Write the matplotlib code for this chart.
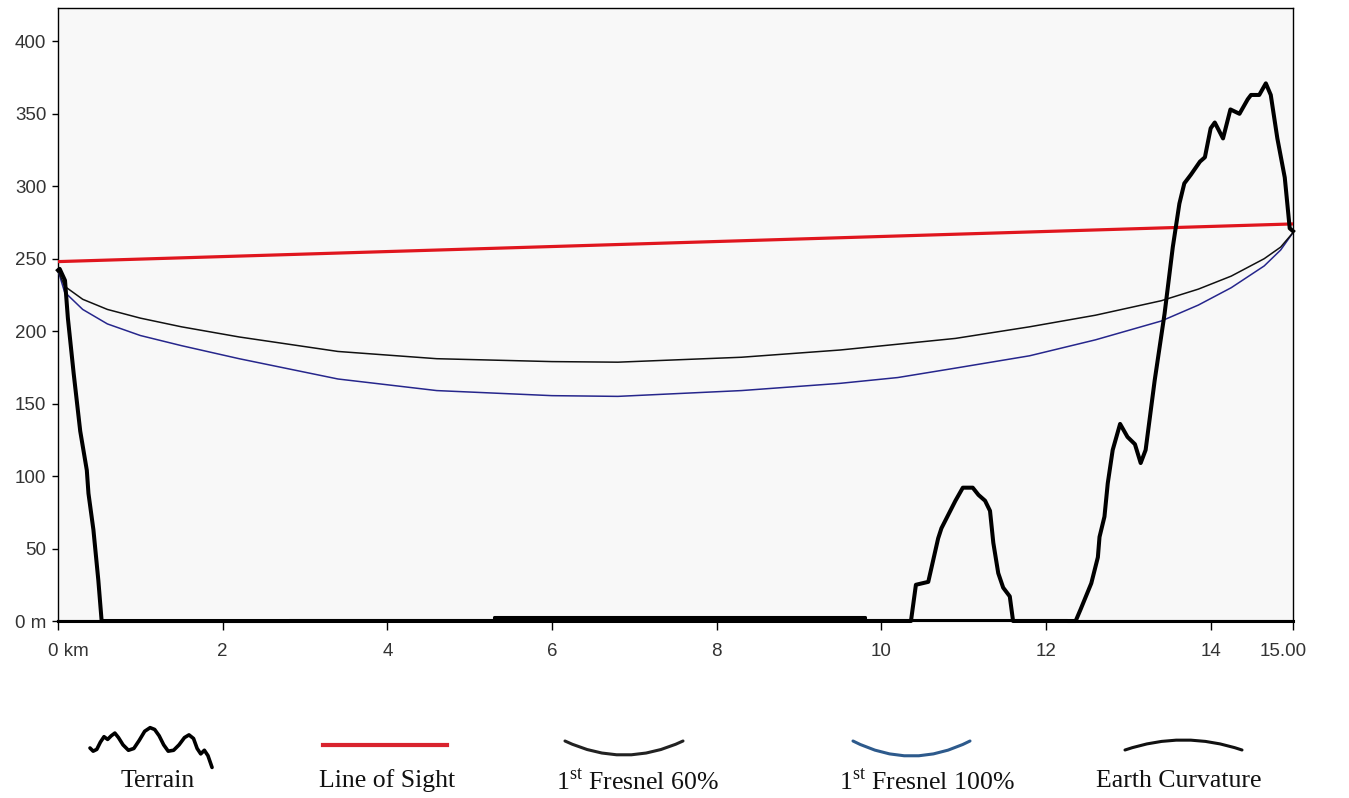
import matplotlib
matplotlib.use("Agg")
import matplotlib.pyplot as plt
from matplotlib.path import Path
from matplotlib.patches import PathPatch
import matplotlib.transforms as mtransforms

plt.rcParams['font.family'] = ['Liberation Sans', 'DejaVu Sans']
plt.rcParams['mathtext.fontset'] = 'custom'
plt.rcParams['mathtext.rm'] = 'Liberation Serif'

# ---------------- data ----------------
terrain_km = [0, 0.02, 0.085, 0.12, 0.19, 0.27, 0.35, 0.37, 0.43, 0.49, 0.53,
              10.36, 10.42, 10.57, 10.61, 10.69, 10.73, 10.90, 10.99, 11.11, 11.18,
              11.26, 11.32, 11.36, 11.42, 11.48, 11.56, 11.60,
              12.36, 12.42, 12.55, 12.63, 12.65, 12.71, 12.75, 12.81, 12.90, 12.99,
              13.08, 13.15, 13.21, 13.32, 13.44, 13.54, 13.62, 13.68, 13.76, 13.87,
              13.93, 14.0, 14.05, 14.15, 14.24, 14.35, 14.45, 14.49, 14.59, 14.67,
              14.73, 14.81, 14.90, 14.96, 15.0]
terrain_m = [242, 243, 235, 209, 171, 131, 104, 88, 63, 28, 0,
             0, 25, 27, 37, 57, 64, 83, 92, 92, 87,
             83, 76, 54, 33, 23, 17, 0,
             0, 8, 26, 44, 58, 72, 95, 118, 136, 127,
             122, 109, 118, 166, 212, 258, 288, 302, 308, 317,
             320, 340, 344, 333, 353, 350, 360, 363, 363, 371,
             363, 333, 306, 271, 269]

los_km = [0, 15]
los_m = [248, 274]

fresnel_km = [0, 0.08, 0.3, 0.6, 1.0, 1.5, 2.2, 3.4, 4.6, 6.0, 6.8, 8.3, 9.5,
              10.2, 10.9, 11.8, 12.6, 13.4, 13.85, 14.25, 14.65, 14.85, 15.0]
fresnel60_m = [242, 231, 222, 215, 209, 203, 196, 186, 181, 179, 178.6, 182, 187,
               191, 195, 203, 211, 221, 229, 238, 250, 258, 268]
fresnel100_m = [242, 227, 215, 205, 197, 190, 181, 167, 159, 155.5, 155, 159, 164,
                168, 174.5, 183, 194, 207, 218, 230, 245, 256, 268]

earth_km = [0, 2.8, 2.8, 5.3, 5.3, 9.8, 9.8, 12.25, 12.25, 15]
earth_m = [0, 0, 1, 1, 2.5, 2.5, 1, 1, 0, 0]

xtick_vals = [0, 2, 4, 6, 8, 10, 12, 14, 15]
xtick_labels = ['0 km', '2', '4', '6', '8', '10', '12', '14', '15.00']
ytick_vals = [0, 50, 100, 150, 200, 250, 300, 350, 400]
ytick_labels = ['0 m', '50', '100', '150', '200', '250', '300', '350', '400']

legend_labels = ['Terrain', 'Line of Sight', r'1$^{\mathrm{st}}$ Fresnel 60%',
                 r'1$^{\mathrm{st}}$ Fresnel 100%', 'Earth Curvature']

# ---------------- figure ----------------
W, H = 1349, 798
fig = plt.figure(figsize=(W / 100, H / 100), dpi=100)
fig.patch.set_facecolor('white')

ax = fig.add_axes([58 / W, 1 - 621 / H, (1293 - 58) / W, (621 - 8) / H])
ax.set_facecolor('#f8f8f8')
ax.set_xlim(0, 15)
ax.set_ylim(0, 423)

ax.plot(fresnel_km, fresnel100_m, color='#26268c', lw=1.1, zorder=3)
ax.plot(fresnel_km, fresnel60_m, color='#111111', lw=1.1, zorder=3)
ax.plot(los_km, los_m, color='#e0161e', lw=2.3, zorder=4)
ax.plot(earth_km, earth_m, color='black', lw=2.2, zorder=4, clip_on=False)
ax.plot(terrain_km, terrain_m, color='black', lw=2.9, zorder=5, clip_on=False,
        solid_joinstyle='round')

for s in ax.spines.values():
    s.set_color('black')
    s.set_linewidth(1.0)
ax.spines['bottom'].set_linewidth(1.5)

ax.set_xticks(xtick_vals)
ax.set_xticklabels(xtick_labels)
ax.set_yticks(ytick_vals)
ax.set_yticklabels(ytick_labels)
ax.tick_params(axis='x', length=6.5, width=1, color='black', pad=9,
               labelsize=13.5, labelcolor='#333333')
ax.tick_params(axis='y', length=4.3, width=1, color='black', pad=4,
               labelsize=13.5, labelcolor='#333333')
tl = ax.get_xticklabels()
tl[0].set_transform(tl[0].get_transform() +
                    mtransforms.ScaledTranslation(10 / 100, 0, fig.dpi_scale_trans))
tl[-1].set_transform(tl[-1].get_transform() +
                     mtransforms.ScaledTranslation(-10 / 100, 0, fig.dpi_scale_trans))

# ---------------- legend (pixel-space overlay) ----------------
lg = fig.add_axes([0, 0, 1, 1], facecolor='none')
lg.set_xlim(0, W)
lg.set_ylim(H, 0)
lg.axis('off')

# terrain squiggle icon
sq_px = [205, 212, 220, 228, 236, 244, 252, 260, 268, 278, 290, 302, 314, 326,
         338, 348, 358, 368, 378, 390, 402, 414, 424, 434, 442, 450, 458, 466, 475]
sq_py = [145, 152, 148, 132, 120, 126, 118, 112, 122, 138, 150, 146, 128, 108,
         100, 104, 118, 138, 152, 150, 138, 122, 116, 124, 146, 158, 150, 162, 188]
sx = [90 + (p - 205) * 0.452 for p in sq_px]
sy = [748 + (p - 145) * 0.452 for p in sq_py]
lg.plot(sx, sy, color='black', lw=2.6, solid_joinstyle='round', solid_capstyle='round')

# line of sight icon
lg.plot([323, 447], [745, 745], color='#d9232e', lw=3)


def arc(x0, x1, yend, ymid, color):
    cy = 2 * ymid - yend
    p = Path([(x0, yend), ((x0 + x1) / 2, cy), (x1, yend)],
             [Path.MOVETO, Path.CURVE3, Path.CURVE3])
    lg.add_patch(PathPatch(p, fill=False, edgecolor=color, lw=2.2, capstyle='round'))


arc(565, 683, 741, 755, '#222222')
arc(853, 970, 741, 756, '#2d5a8c')
arc(1125, 1242, 750, 740, '#111111')

legend_x = [158, 387, 637, 927, 1179]
for x, lab in zip(legend_x, legend_labels):
    lg.text(x, 781, lab, ha='center', va='center', fontsize=18.5,
            family=['Liberation Serif', 'DejaVu Serif'], color='#111111')

fig.savefig('out.png', dpi=100)
